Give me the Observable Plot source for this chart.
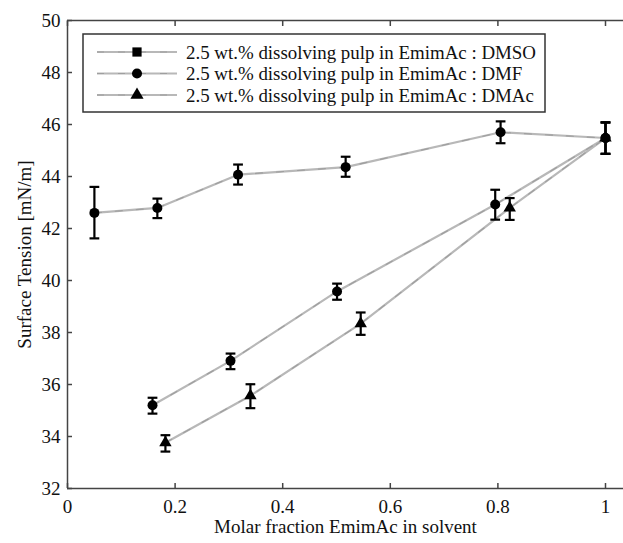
<!DOCTYPE html>
<html>
<head>
<meta charset="utf-8">
<script src="https://cdn.jsdelivr.net/npm/d3@7"></script>
<script src="https://cdn.jsdelivr.net/npm/@observablehq/plot@0.6"></script>
<style>
  body { margin: 0; background: #fff; }
  #chart { position: relative; width: 623px; height: 543px; }
  #chart svg { font-family: "Liberation Serif", "DejaVu Serif", serif; }
  #chart svg text { font-size: 19px; }
  #chart svg text.legend-text { font-size: 18.9px; text-anchor: start; }
</style>
</head>
<body>
<div id="chart"></div>
<script>
// ---- Data ----
const seriesNames = [
  "2.5 wt.% dissolving pulp in EmimAc : DMSO",
  "2.5 wt.% dissolving pulp in EmimAc : DMF",
  "2.5 wt.% dissolving pulp in EmimAc : DMAc"
];
const xDMSO  = [0.05, 0.167, 0.317, 0.517, 0.805, 1.0];
const yDMSO  = [42.6, 42.79, 44.07, 44.36, 45.70, 45.48];
const loDMSO = [41.62, 42.40, 43.69, 43.99, 45.28, 44.87];
const hiDMSO = [43.60, 43.15, 44.46, 44.76, 46.12, 46.08];

const xDMF  = [0.158, 0.303, 0.501, 0.795, 1.0];
const yDMF  = [35.20, 36.91, 39.58, 42.92, 45.48];
const loDMF = [34.88, 36.59, 39.26, 42.34, 44.87];
const hiDMF = [35.49, 37.19, 39.88, 43.49, 46.08];

const xDMAc  = [0.182, 0.340, 0.545, 0.822, 1.0];
const yDMAc  = [33.76, 35.57, 38.34, 42.79, 45.48];
const loDMAc = [33.42, 35.09, 37.91, 42.33, 44.87];
const hiDMAc = [34.05, 36.01, 38.77, 43.17, 46.08];

const plotMarkers = ["circle", "circle", "triangle"];   // as drawn in the plot
const legendMarkers = ["square", "circle", "triangle"]; // as drawn in the legend
const xTicks = [0, 0.2, 0.4, 0.6, 0.8, 1];
const yTicks = [32, 34, 36, 38, 40, 42, 44, 46, 48, 50];
const xLabel = "Molar fraction EmimAc in solvent";
const yLabel = "Surface Tension [mN/m]";

// ---- Build table ----
function rows(name, xs, ys, lo, hi, sym) {
  return xs.map((x, i) => ({series: name, x, y: ys[i], lo: lo[i], hi: hi[i], sym}));
}
const data = [
  ...rows(seriesNames[0], xDMSO, yDMSO, loDMSO, hiDMSO, plotMarkers[0]),
  ...rows(seriesNames[1], xDMF, yDMF, loDMF, hiDMF, plotMarkers[1]),
  ...rows(seriesNames[2], xDMAc, yDMAc, loDMAc, hiDMAc, plotMarkers[2])
];

const capSymbol = {
  draw(ctx, size) {
    const w = Math.sqrt(size) / 2;
    ctx.moveTo(-w, 0);
    ctx.lineTo(w, 0);
  }
};

const W = 623, H = 543;
const mL = 67, mR = 0, mT = 20, mB = 55;
const xMax = (W - mL - mR) / (605 - mL);

const axisColor = "#444";
const lineColor = "#b8b8b8";

const chart = Plot.plot({
  width: W,
  height: H,
  marginLeft: mL,
  marginRight: mR,
  marginTop: mT,
  marginBottom: mB,
  style: {fontFamily: "Liberation Serif, serif", fontSize: "19px", color: "#111", background: "#fff"},
  x: {domain: [0, xMax], ticks: xTicks},
  y: {domain: [32, 50], ticks: yTicks},
  marks: [
    // frame
    Plot.ruleY([50], {stroke: axisColor, strokeWidth: 1.5}),
    Plot.ruleY([32], {stroke: axisColor, strokeWidth: 1.5}),
    Plot.ruleX([0], {stroke: axisColor, strokeWidth: 1.5}),
    Plot.axisX({anchor: "bottom", ticks: xTicks, tickSize: -5, tickPadding: 16, stroke: axisColor, strokeWidth: 1.5,
      tickFormat: d => String(+d.toFixed(1)), label: xLabel, labelAnchor: "center", labelOffset: 44, labelArrow: "none"}),
    Plot.axisX({anchor: "top", ticks: xTicks, tickSize: -5, tickFormat: () => "", label: null, stroke: axisColor, strokeWidth: 1.5}),
    Plot.axisY({anchor: "left", ticks: yTicks, tickSize: -5, tickPadding: 12, stroke: axisColor, strokeWidth: 1.5,
      label: yLabel, labelAnchor: "center", labelOffset: 50, labelArrow: "none"}),
    // lines
    Plot.line(data, {x: "x", y: "y", z: "series", stroke: lineColor, strokeWidth: 2.2}),
    Plot.line(data, {x: "x", y: "y", z: "series", stroke: "#8a8a8a", strokeWidth: 1.2, strokeDasharray: "7,14", strokeOpacity: 0.55}),
    // error bars
    Plot.ruleX(data, {x: "x", y1: "lo", y2: "hi", stroke: "#000", strokeWidth: 2.2}),
    Plot.dot(data, {x: "x", y: "lo", symbol: capSymbol, r: 5.5, stroke: "#000", strokeWidth: 2.2}),
    Plot.dot(data, {x: "x", y: "hi", symbol: capSymbol, r: 5.5, stroke: "#000", strokeWidth: 2.2}),
    // markers
    Plot.dot(data.filter(d => d.sym === "circle"), {x: "x", y: "y", symbol: "circle", r: 5, fill: "#000", stroke: "none"}),
    Plot.dot(data.filter(d => d.sym === "triangle"), {x: "x", y: "y", symbol: "triangle", r: 4.6, fill: "#000", stroke: "none"})
  ]
});

document.getElementById("chart").appendChild(chart);

// ---- Legend (inside the axes, top-left) ----
const svg = d3.select(chart);
const lg = svg.append("g").attr("class", "legend");
const bx = 83, by = 34, bw = 462, bh = 78;
lg.append("rect").attr("x", bx).attr("y", by).attr("width", bw).attr("height", bh)
  .attr("fill", "#fff").attr("stroke", "#333").attr("stroke-width", 1.5);
const rowY = [52, 73.5, 95];
const symMap = {square: d3.symbolSquare, circle: d3.symbolCircle, triangle: d3.symbolTriangle};
const symSize = {square: 85, circle: 80, triangle: 75};
seriesNames.forEach((name, i) => {
  const y = rowY[i];
  lg.append("line").attr("x1", 97).attr("x2", 177).attr("y1", y).attr("y2", y)
    .attr("stroke", lineColor).attr("stroke-width", 2.2);
  lg.append("line").attr("x1", 97).attr("x2", 177).attr("y1", y).attr("y2", y)
    .attr("stroke", "#8a8a8a").attr("stroke-width", 1.2).attr("stroke-dasharray", "7,14").attr("stroke-opacity", 0.55);
  lg.append("path").attr("d", d3.symbol(symMap[legendMarkers[i]], symSize[legendMarkers[i]])())
    .attr("transform", `translate(137,${y})`).attr("fill", "#000");
  lg.append("text").attr("class", "legend-text").attr("x", 186).attr("y", y).attr("dy", "0.35em")
    .attr("text-anchor", "start").attr("fill", "#111").text(name);
});
</script>
</body>
</html>
